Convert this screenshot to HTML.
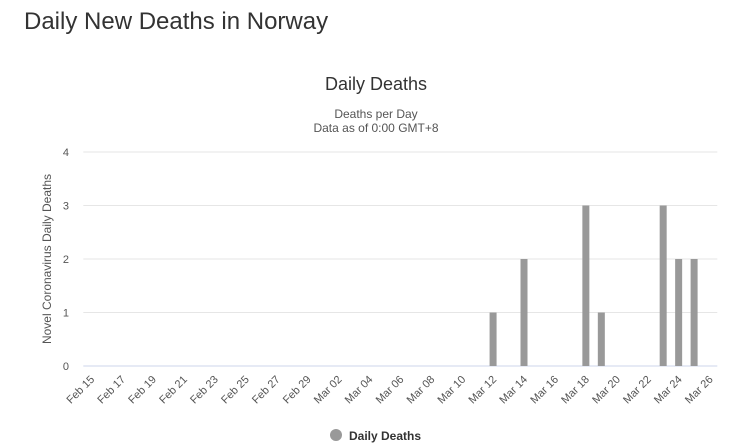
<!DOCTYPE html>
<html><head><meta charset="utf-8"><style>
body{margin:0;background:#fff;width:734px;height:448px;overflow:hidden;font-family:"Liberation Sans",sans-serif}
h1{position:absolute;left:24px;top:8px;margin:0;font-weight:normal;font-size:24px;color:#333}
</style></head><body>
<h1>Daily New Deaths in Norway</h1>
<svg id="chart" width="734" height="448" style="position:absolute;left:0;top:0" font-family="Liberation Sans, sans-serif">
<text x="376" y="90" text-anchor="middle" font-size="18" fill="#333">Daily Deaths</text>
<text x="376" y="118" text-anchor="middle" font-size="12" fill="#555">Deaths per Day</text>
<text x="376" y="132" text-anchor="middle" font-size="12" fill="#555">Data as of 0:00 GMT+8</text>
<text transform="translate(51,259) rotate(-90)" text-anchor="middle" font-size="12" fill="#555">Novel Coronavirus Daily Deaths</text>
<g id="grid"></g><g id="bars"></g><g id="xlabels"></g>
<circle cx="336" cy="435" r="6" fill="#999"/>
<text x="349" y="440" font-size="12" font-weight="bold" fill="#333">Daily Deaths</text>
</svg>
<script>
const categories=["Feb 15","Feb 16","Feb 17","Feb 18","Feb 19","Feb 20","Feb 21","Feb 22","Feb 23","Feb 24","Feb 25","Feb 26","Feb 27","Feb 28","Feb 29","Mar 01","Mar 02","Mar 03","Mar 04","Mar 05","Mar 06","Mar 07","Mar 08","Mar 09","Mar 10","Mar 11","Mar 12","Mar 13","Mar 14","Mar 15","Mar 16","Mar 17","Mar 18","Mar 19","Mar 20","Mar 21","Mar 22","Mar 23","Mar 24","Mar 25","Mar 26"];
const deaths=[0,0,0,0,0,0,0,0,0,0,0,0,0,0,0,0,0,0,0,0,0,0,0,0,0,0,1,0,2,0,0,0,3,1,0,0,0,3,2,2,0];
const yTicks=[0,1,2,3,4];
const NS="http://www.w3.org/2000/svg";
const X0=83.3,X1=717.3,Y0=366,Y1=152,YMAX=4;
const step=(X1-X0)/categories.length;
const xc=i=>X0+step*(i+0.5);
const y=v=>Y0-(Y0-Y1)*v/YMAX;
function mk(t,a,p){const e=document.createElementNS(NS,t);for(const k in a)e.setAttribute(k,a[k]);p.appendChild(e);return e;}
const grid=document.getElementById('grid'),bars=document.getElementById('bars'),xl=document.getElementById('xlabels');
yTicks.forEach(v=>{
  const l=mk('line',{x1:X0,x2:X1,y1:y(v),y2:y(v),stroke:v===0?'#ccd6eb':'#e6e6e6','stroke-width':1},grid);
  
  
  const t=mk('text',{x:69,y:y(v)+4,'text-anchor':'end','font-size':11,fill:'#555'},grid);
  t.textContent=v;
  
  
});
deaths.forEach((v,i)=>{
  if(v<=0)return;
  const r=mk('rect',{x:xc(i)-3.5,y:y(v),width:7,height:Y0-y(v),fill:'#999'},bars);
  
  
});
categories.forEach((c,i)=>{
  if(i%2)return;
  const t=mk('text',{transform:`translate(${xc(i)+4},${y(0)+14}) rotate(-45)`,'text-anchor':'end','font-size':11,fill:'#555'},xl);
  t.textContent=c;
  
  
});
</script>
</body></html>
